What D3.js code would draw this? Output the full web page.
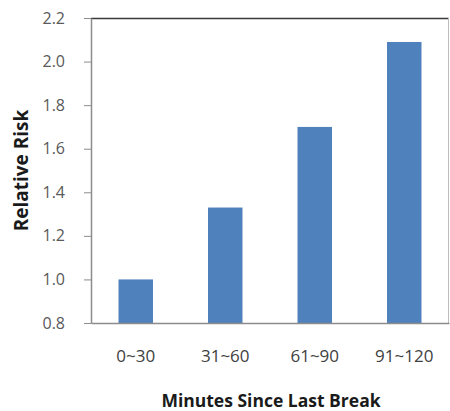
<!DOCTYPE html>
<html>
<head>
<meta charset="utf-8">
<script src="https://cdn.jsdelivr.net/npm/d3@7"></script>
<style>
  html, body { margin: 0; padding: 0; background: #fff; }
  svg { display: block; }
</style>
</head>
<body>
<svg id="chart" width="450" height="411"></svg>
<script>
// Relative risk by time elapsed since the last break
const categories = ["0~30", "31~60", "61~90", "91~120"];
const riskValues = [1.0, 1.33, 1.70, 2.09];
const yTicks = [0.8, 1.0, 1.2, 1.4, 1.6, 1.8, 2.0, 2.2];
const xTitle = "Minutes Since Last Break";
const yTitle = "Relative Risk";

const FONT = "'Open Sans', 'Noto Sans', sans-serif";

const svg = d3.select("#chart");
const margin = { top: 18, right: 1, bottom: 88, left: 91 };
const width = 450 - margin.left - margin.right;
const height = 411 - margin.top - margin.bottom;

const g = svg.append("g").attr("transform", `translate(${margin.left},${margin.top})`);

const x = d3.scaleBand().domain(categories).range([0, width]).paddingInner(0.615).paddingOuter(0.3075);
const y = d3.scaleLinear().domain([0.8, 2.2]).range([height, 0]);

// bars
g.selectAll("rect.bar")
  .data(categories.map((c, i) => ({ c, v: riskValues[i] })))
  .join("rect")
  .attr("class", "bar")
  .attr("x", d => x(d.c))
  .attr("width", x.bandwidth())
  .attr("y", d => y(d.v))
  .attr("height", d => y(0.8) - y(d.v))
  .attr("fill", "#4F81BD");

// frame: dark top edge, light right edge
g.append("line").attr("x1", 0).attr("x2", width).attr("y1", 0.5).attr("y2", 0.5)
  .attr("stroke", "#3a3a3a").attr("stroke-width", 1.5);
g.append("line").attr("x1", width - 0.5).attr("x2", width - 0.5).attr("y1", 0).attr("y2", height)
  .attr("stroke", "#bdbdbd").attr("stroke-width", 1);

// y axis
const yAxis = g.append("g")
  .call(d3.axisLeft(y).tickValues(yTicks).tickFormat(d3.format(".1f")).tickSize(7).tickSizeOuter(0).tickPadding(19));
yAxis.select(".domain").attr("stroke", "#8c8c8c").attr("stroke-width", 1.5);
yAxis.selectAll(".tick line").attr("stroke", "#8c8c8c");
yAxis.selectAll(".tick text")
  .attr("fill", "#595959")
  .style("font-family", FONT)
  .style("font-size", "16px");

// x axis
const xAxis = g.append("g").attr("transform", `translate(0,${height})`)
  .call(d3.axisBottom(x).tickSize(0).tickSizeOuter(0).tickPadding(27));
xAxis.select(".domain").attr("stroke", "#8c8c8c").attr("stroke-width", 1.5);
xAxis.selectAll(".tick text")
  .attr("fill", "#404040")
  .style("font-family", FONT)
  .style("font-size", "17px");

// axis titles
svg.append("text")
  .attr("x", margin.left + width / 2 + 1)
  .attr("y", 407)
  .attr("text-anchor", "middle")
  .attr("fill", "#1a1a1a")
  .style("font-family", FONT)
  .style("font-weight", "bold")
  .style("font-size", "17.5px")
  .text(xTitle);

svg.append("text")
  .attr("transform", `translate(28,${margin.top + height / 2}) rotate(-90)`)
  .attr("text-anchor", "middle")
  .attr("fill", "#1a1a1a")
  .style("font-family", FONT)
  .style("font-weight", "bold")
  .style("font-size", "19px")
  .text(yTitle);
</script>
</body>
</html>
